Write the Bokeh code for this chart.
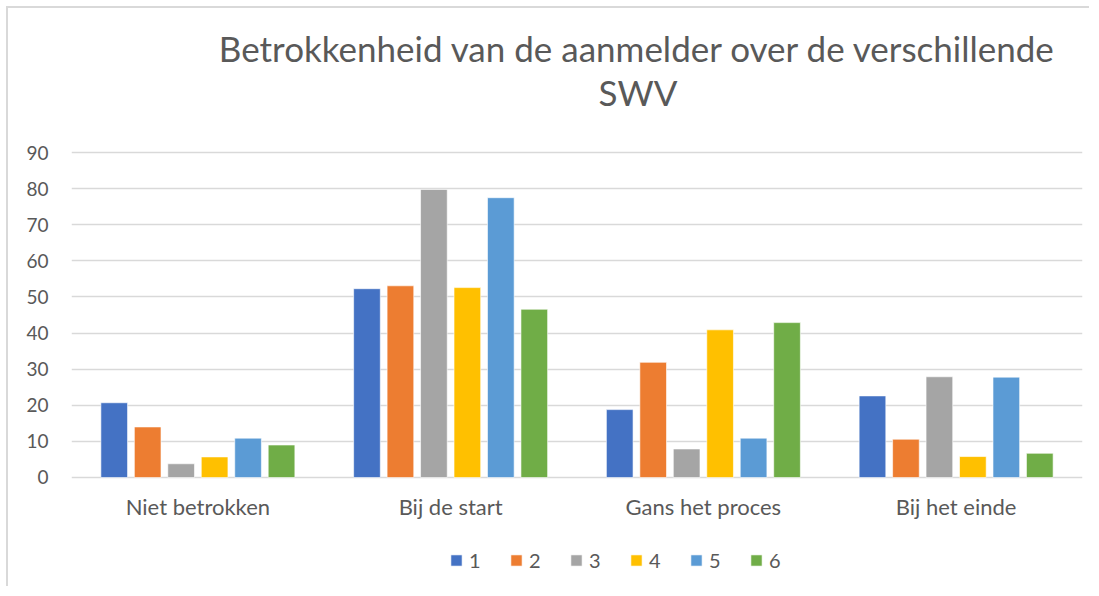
from bokeh.plotting import figure
from bokeh.models import ColumnDataSource, FactorRange, Range1d, Legend, LegendItem, Label, FixedTicker
from bokeh.core.properties import value
from bokeh.transform import dodge
from bokeh.embed import file_html
from bokeh.resources import INLINE

categories = ["Niet betrokken", "Bij de start", "Gans het proces", "Bij het einde"]
series_names = ["1", "2", "3", "4", "5", "6"]
s1 = [20.7, 52.3, 18.8, 22.6]
s2 = [14.0, 53.1, 31.9, 10.6]
s3 = [3.8, 79.8, 7.9, 27.9]
s4 = [5.7, 52.6, 40.9, 5.8]
s5 = [10.9, 77.5, 10.9, 27.8]
s6 = [9.0, 46.6, 42.9, 6.7]
y_ticks = [0, 10, 20, 30, 40, 50, 60, 70, 80, 90]
title_line1 = "Betrokkenheid van de aanmelder over de verschillende"
title_line2 = "SWV"

colors = ["#4472C4", "#ED7D31", "#A5A5A5", "#FFC000", "#5B9BD5", "#70AD47"]
text_color = "#595959"
grid_color = "#D9D9D9"
FONT = "Lato"

source = ColumnDataSource(data=dict(cat=categories, s1=s1, s2=s2, s3=s3, s4=s4, s5=s5, s6=s6,
                                    label_y=[-7.9] * len(categories)))

# y range extends above 90 and below 0 so title, category labels and legend sit inside the frame;
# gridlines are only drawn at the fixed ticks 0..90
p = figure(
    width=1083, height=580,
    x_range=FactorRange(factors=categories, range_padding=0, factor_padding=0),
    y_range=Range1d(-27.98, 126.59),
    output_backend="svg", toolbar_location=None,
    min_border_left=63, min_border_right=9, min_border_top=12, min_border_bottom=10,
)
p.outline_line_color = None
p.background_fill_color = "white"
p.border_fill_color = "white"

pitch = 0.1324
bar_w = 0.1055
renderers = []
for j, key in enumerate(["s1", "s2", "s3", "s4", "s5", "s6"]):
    r = p.vbar(x=dodge("cat", (j - 2.5) * pitch, range=p.x_range), top=key, width=bar_w,
               source=source, fill_color=colors[j], line_color="white", line_width=0.6)
    renderers.append(r)

# category labels
p.text(x="cat", y="label_y", text="cat", source=source, text_align="center",
       text_baseline="alphabetic", text_font=value(FONT), text_font_size="22px",
       text_color=text_color)

p.xgrid.grid_line_color = None
p.ygrid.grid_line_color = grid_color
p.ygrid.grid_line_width = 1.4
p.xaxis.visible = False

p.yaxis.ticker = FixedTicker(ticks=y_ticks)
p.yaxis.axis_line_color = None
p.yaxis.major_tick_line_color = None
p.yaxis.minor_tick_line_color = None
p.yaxis.major_tick_out = 0
p.yaxis.major_tick_in = 0
p.yaxis.major_label_standoff = 23
p.yaxis.major_label_text_font = FONT
p.yaxis.major_label_text_font_size = "19px"
p.yaxis.major_label_text_color = text_color

legend = Legend(
    items=[LegendItem(label=series_names[j], renderers=[renderers[j]]) for j in range(6)],
    orientation="horizontal", location=(378, 6),
    glyph_width=14, glyph_height=14, label_height=14, label_width=20,
    label_standoff=6, spacing=20, padding=0, margin=0,
    border_line_color=None, background_fill_alpha=0,
    label_text_font=FONT, label_text_font_size="20px", label_text_color=text_color,
    label_text_baseline="middle",
)
p.add_layout(legend, "center")

t1 = Label(x=2.241, y=119.1, text=title_line1, text_align="center", text_baseline="alphabetic",
           text_font=FONT, text_font_size="35px", text_color=text_color)
t2 = Label(x=2.241, y=106.9, text=title_line2, text_align="center", text_baseline="alphabetic",
           text_font=FONT, text_font_size="35px", text_color=text_color)
p.add_layout(t1)
p.add_layout(t2)

p.styles = {"border-top": "2px solid #D9D9D9", "border-left": "2px solid #D9D9D9",
            "margin-top": "6px", "margin-left": "6px"}

open("out.html", "w").write(file_html(p, INLINE))
